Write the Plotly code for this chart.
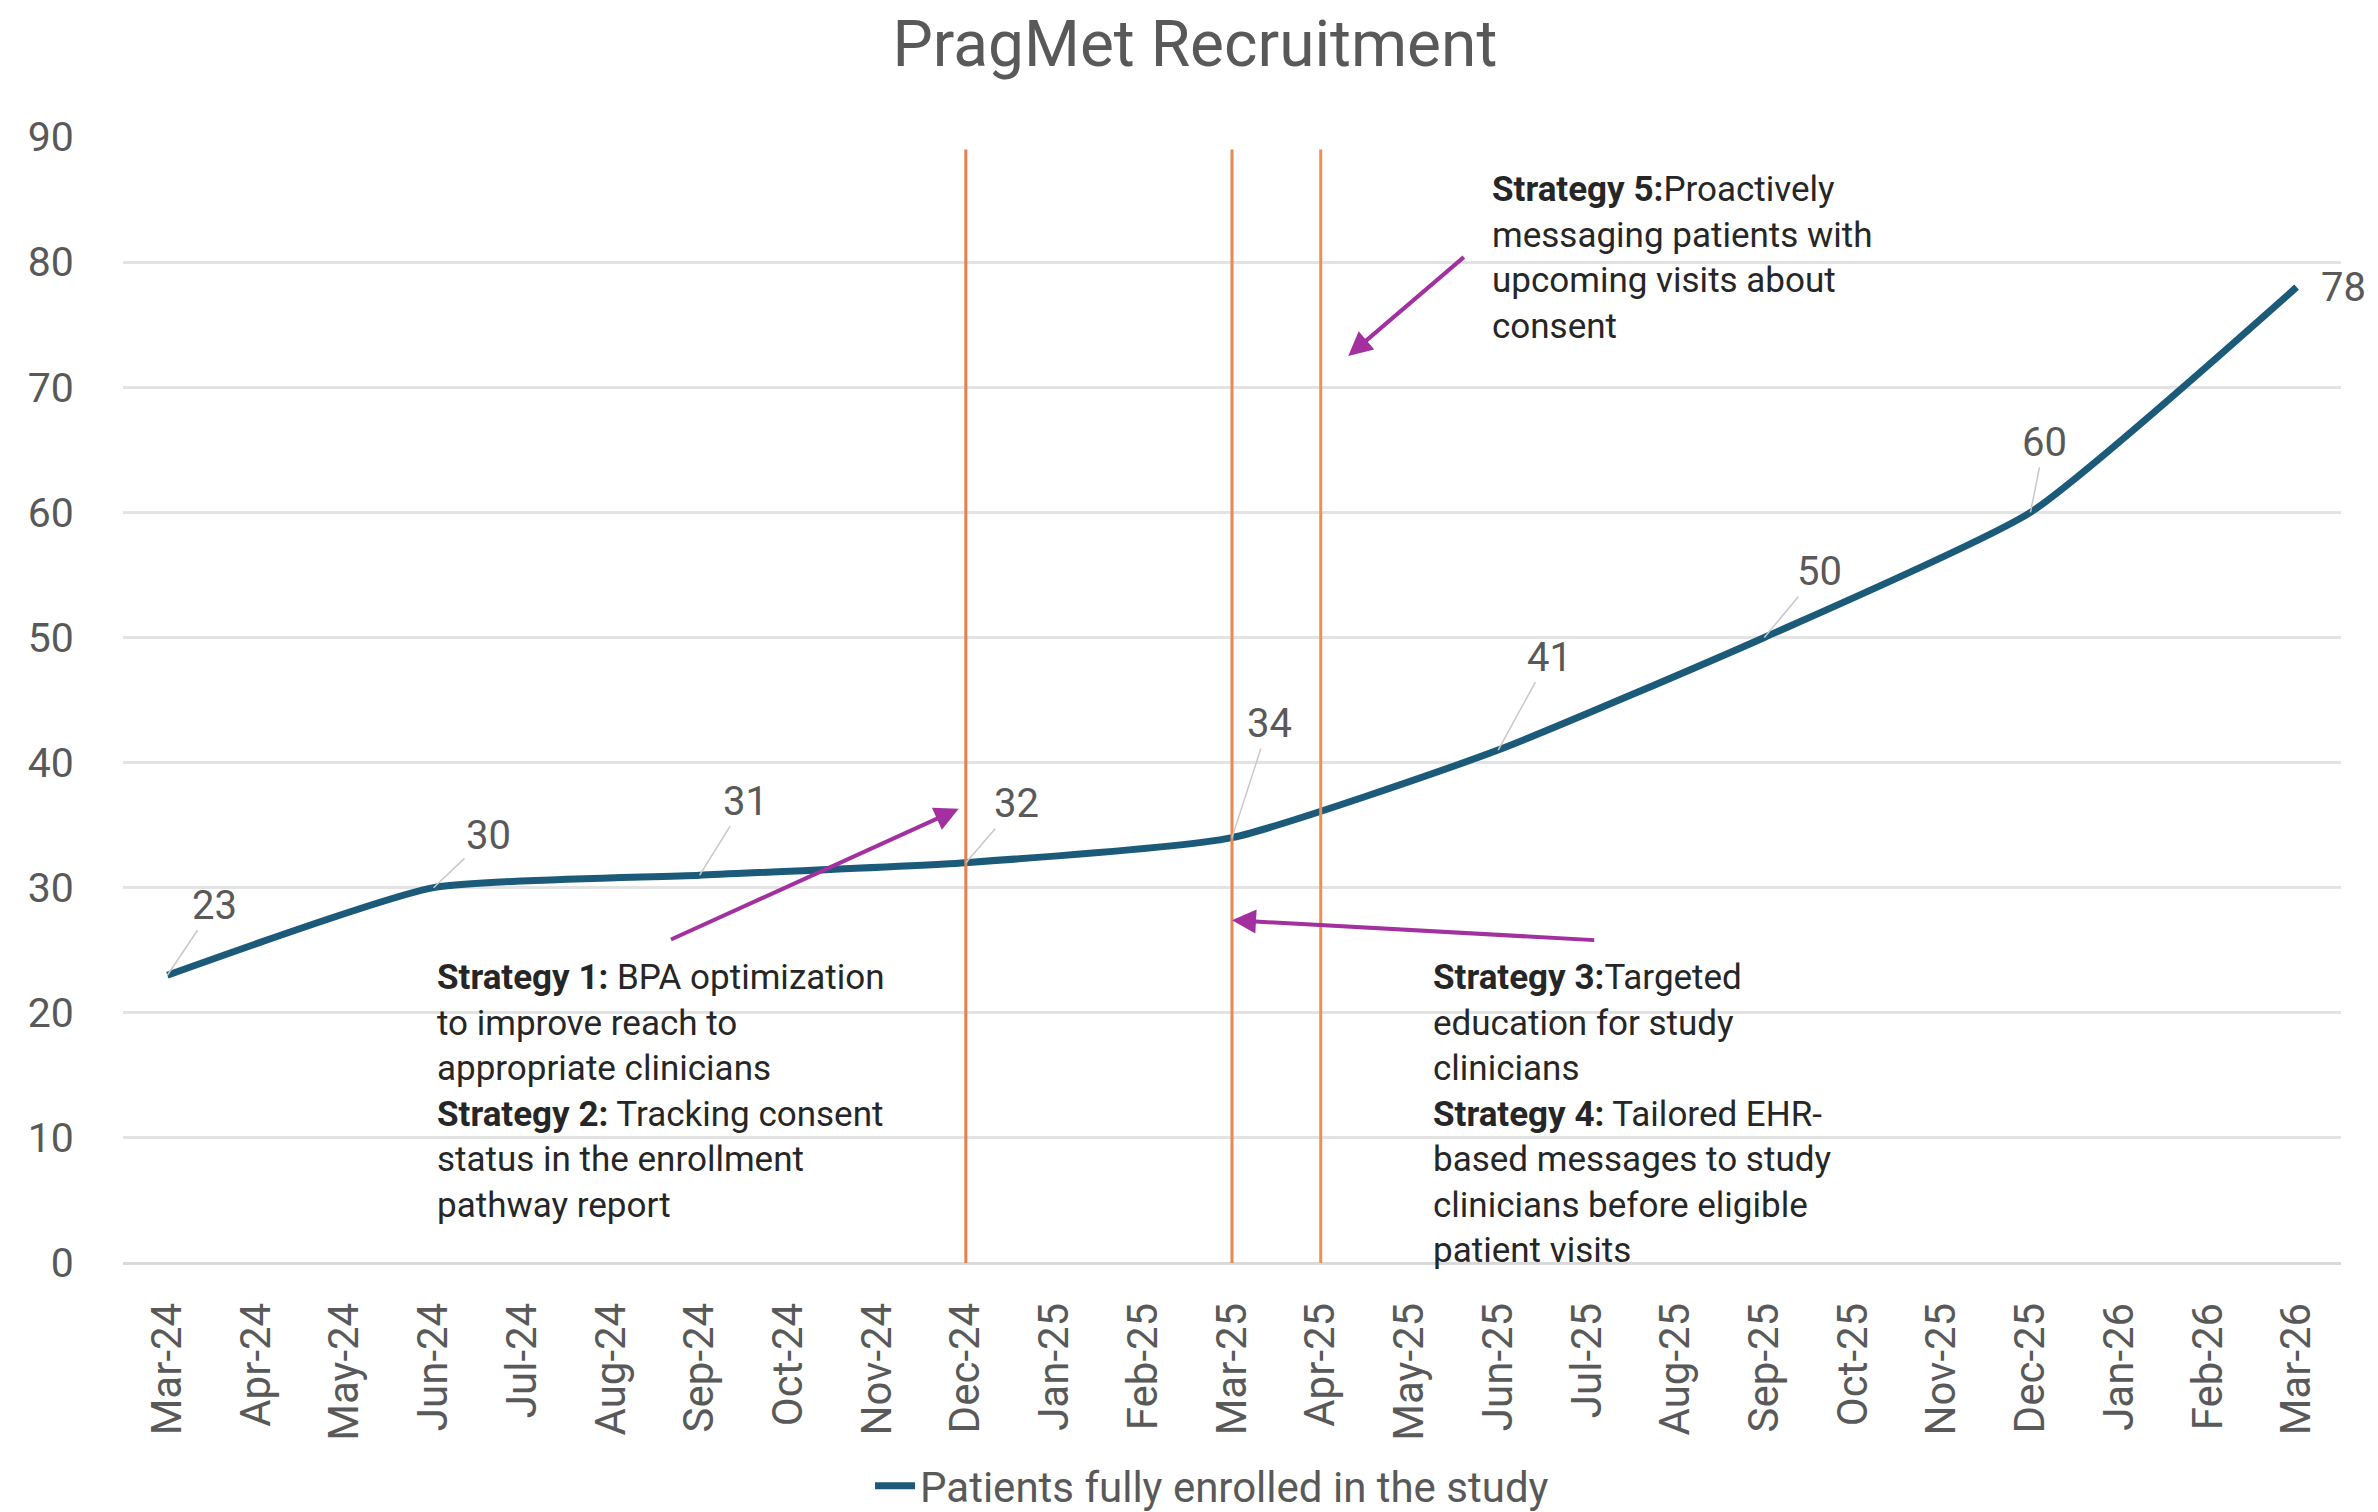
import plotly.graph_objects as go

months = ["Mar-24", "Apr-24", "May-24", "Jun-24", "Jul-24", "Aug-24", "Sep-24", "Oct-24",
          "Nov-24", "Dec-24", "Jan-25", "Feb-25", "Mar-25", "Apr-25", "May-25", "Jun-25",
          "Jul-25", "Aug-25", "Sep-25", "Oct-25", "Nov-25", "Dec-25", "Jan-26", "Feb-26", "Mar-26"]
enrolled = [23, None, None, 30, None, None, 31, None, None, 32, None, None, 34, None, None,
            41, None, None, 50, None, None, 60, None, None, 78]
strategy_months = ["Dec-24", "Mar-25", "Apr-25"]
strategy_colors = ["#E2804E", "#E8874F", "#F0904F"]

series_name = "Patients fully enrolled in the study"
title_text = "PragMet Recruitment"

text_s12 = ("<b>Strategy 1:</b> BPA optimization<br>to improve reach to<br>appropriate clinicians<br>"
            "<b>Strategy 2:</b> Tracking consent<br>status in the enrollment<br>pathway report")
text_s34 = ("<b>Strategy 3:</b>Targeted<br>education for study<br>clinicians<br>"
            "<b>Strategy 4:</b> Tailored EHR-<br>based messages to study<br>clinicians before eligible<br>patient visits")
text_s5 = ("<b>Strategy 5:</b>Proactively<br>messaging patients with<br>upcoming visits about<br>consent")

FONT = "Roboto, Open Sans, Liberation Sans, sans-serif"
LINE_COLOR = "#1C5A7A"
ARROW_COLOR = "#A2309F"

# the page body adds an 8px offset; the figure is sized so it ends at the window edge
W, H = 2370, 1504

fig = go.Figure()
fig.add_trace(go.Scatter(
    x=months, y=enrolled, mode="lines", name=series_name,
    connectgaps=True,
    line=dict(color=LINE_COLOR, width=7, shape="spline", smoothing=0.5),
))

shapes = []
for m, c in zip(strategy_months, strategy_colors):
    shapes.append(dict(type="line", xref="x", yref="y", x0=m, x1=m, y0=0, y1=89,
                       line=dict(color=c, width=3), layer="above"))

annotations = []
label_offsets = {0: (47, -70), 3: (55, -52), 6: (46, -74), 9: (51, -59), 12: (37, -114),
                 15: (51, -93), 18: (55, -66), 21: (14, -70)}
for i, v in enumerate(enrolled):
    if v is None:
        continue
    if i in label_offsets:
        ax, ay = label_offsets[i]
        annotations.append(dict(x=months[i], y=v, xref="x", yref="y", text=str(v),
                                showarrow=True, arrowhead=0, arrowwidth=1.5,
                                arrowcolor="#C8C8C8", ax=ax, ay=ay,
                                font=dict(family=FONT, size=40, color="#595959")))
    else:
        annotations.append(dict(x=months[i], y=v, xref="x", yref="y", text=str(v),
                                showarrow=False, xanchor="left", xshift=22, yshift=0,
                                font=dict(family=FONT, size=40, color="#595959")))

annotations.append(dict(x=3.02, y=24.6, xref="x", yref="y", text=text_s12, showarrow=False,
                        xanchor="left", yanchor="top", align="left",
                        font=dict(family=FONT, size=35, color="#262626")))
annotations.append(dict(x=14.24, y=24.6, xref="x", yref="y", text=text_s34, showarrow=False,
                        xanchor="left", yanchor="top", align="left",
                        font=dict(family=FONT, size=35, color="#262626")))
annotations.append(dict(x=14.91, y=87.6, xref="x", yref="y", text=text_s5, showarrow=False,
                        xanchor="left", yanchor="top", align="left",
                        font=dict(family=FONT, size=35, color="#262626")))

arrows = [((8.92, 36.3), (5.66, 25.8)), ((12.0, 27.4), (16.1, 25.8)), ((13.31, 72.5), (14.63, 80.5))]
for (hx, hy), (tx, ty) in arrows:
    annotations.append(dict(x=hx, y=hy, ax=tx, ay=ty, xref="x", yref="y", axref="x", ayref="y",
                            text="", showarrow=True, arrowhead=2, arrowsize=1.2, arrowwidth=4,
                            arrowcolor=ARROW_COLOR))

fig.update_layout(
    width=W, height=H,
    paper_bgcolor="white", plot_bgcolor="white",
    margin=dict(l=115, r=37, t=129, b=249, autoexpand=False),
    title=dict(text=title_text, x=0.5008, xref="container", y=1 - 36 / H, yref="container",
               xanchor="center", yanchor="middle",
               font=dict(family=FONT, size=64, color="#595959")),
    font=dict(family=FONT, color="#595959"),
    showlegend=True,
    legend=dict(orientation="h", x=0.491, xanchor="center", y=-0.198, yanchor="middle",
                font=dict(family=FONT, size=42, color="#595959"), itemwidth=40),
    shapes=shapes,
    annotations=annotations,
)
fig.update_xaxes(type="category", categoryorder="array", categoryarray=months,
                 range=[-0.5, 24.5], autorange=False,
                 tickangle=-90, showgrid=False, showline=False, zeroline=False,
                 ticks="outside", ticklen=22, tickcolor="rgba(0,0,0,0)",
                 tickfont=dict(family=FONT, size=42, color="#595959"))
fig.update_yaxes(range=[0, 90], dtick=10, showgrid=True, gridcolor="#E3E3E3", gridwidth=3,
                 zeroline=True, zerolinecolor="#D9D9D9", zerolinewidth=3,
                 ticks="outside", ticklen=40, tickcolor="rgba(0,0,0,0)",
                 tickfont=dict(family=FONT, size=41, color="#595959"))

fig.write_html("out.html")
